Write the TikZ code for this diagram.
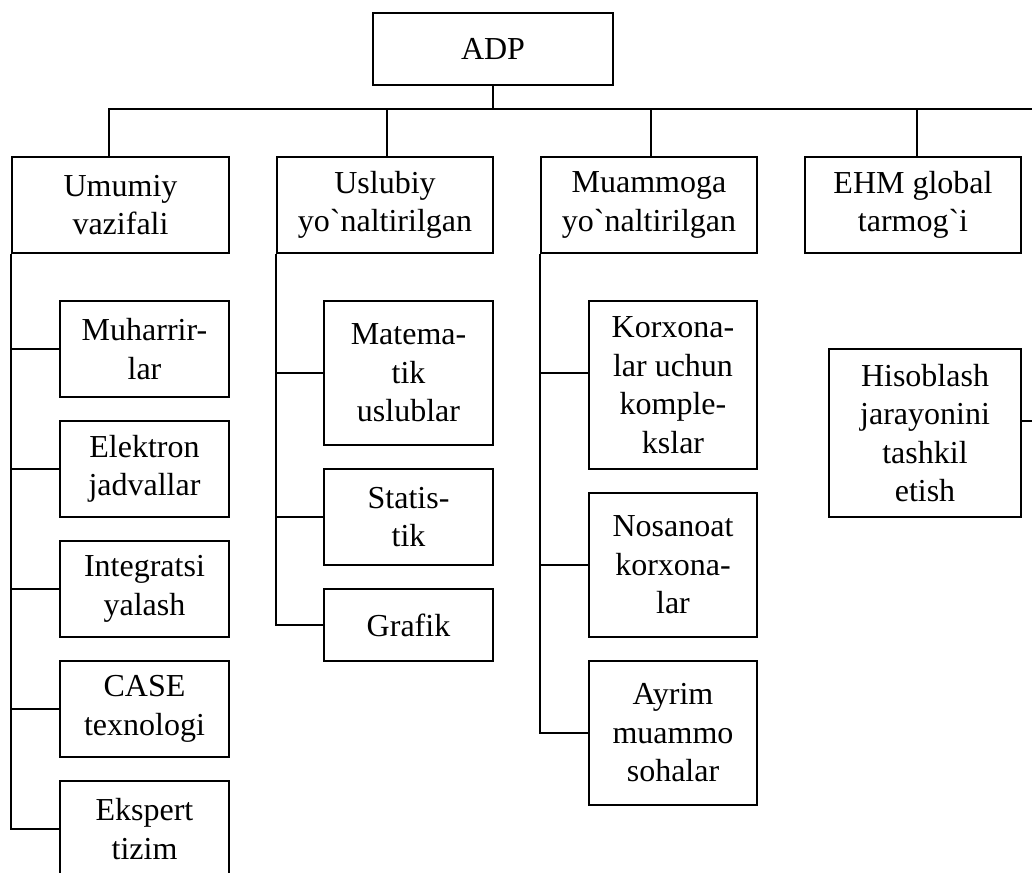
\documentclass[tikz,border=0pt]{standalone}
\usepackage{fontspec}
\setmainfont{Liberation Serif}[Ligatures=TeXOff]
\begin{document}
\begin{tikzpicture}[x=1pt,y=-1pt,
  box/.style={draw, line width=1.6pt, inner sep=0pt, align=center,
    font=\fontsize{32}{38.5}\selectfont},
  link/.style={line width=1.6pt}]
\useasboundingbox (0,0) rectangle (1032,872);
\clip (0,0) rectangle (1032,872);

% root
\node[box, minimum width=240pt, minimum height=72pt] (adp) at (493,49) {ADP};

% first level
\node[box, minimum width=217pt, minimum height=96pt] (umu) at (120.5,205) {Umumiy\\vazifali};
\node[box, minimum width=216pt, minimum height=96pt] (usl) at (385,205) {Uslubiy\\yo`naltirilgan};
\node[box, minimum width=216pt, minimum height=96pt] (mua) at (649,205) {Muammoga\\yo`naltirilgan};
\node[box, minimum width=216pt, minimum height=96pt] (ehm) at (913,205) {EHM global\\tarmog`i};

% general-purpose branch
\node[box, minimum width=169pt, minimum height=96pt] (muh) at (144.5,349) {Muharrir-\\lar};
\node[box, minimum width=169pt, minimum height=96pt] (ele) at (144.5,469) {Elektron\\jadvallar};
\node[box, minimum width=169pt, minimum height=96pt] (int) at (144.5,589) {Integratsi\\yalash};
\node[box, minimum width=169pt, minimum height=96pt] (cas) at (144.5,709) {CASE\\texnologi};
\node[box, minimum width=169pt, minimum height=96pt] (eks) at (144.5,829) {Ekspert\\tizim};

% method-oriented branch
\node[box, minimum width=169pt, minimum height=144pt] (mat) at (408.5,373) {Matema-\\tik\\uslublar};
\node[box, minimum width=169pt, minimum height=96pt] (sta) at (408.5,517) {Statis-\\tik};
\node[box, minimum width=169pt, minimum height=72pt] (gra) at (408.5,625) {Grafik};

% problem-oriented branch
\node[box, minimum width=168pt, minimum height=168pt] (kor) at (673,385) {Korxona-\\lar uchun\\komple-\\kslar};
\node[box, minimum width=168pt, minimum height=144pt] (nos) at (673,565) {Nosanoat\\korxona-\\lar};
\node[box, minimum width=168pt, minimum height=144pt] (ayr) at (673,733) {Ayrim\\muammo\\sohalar};

% network branch
\node[box, minimum width=192pt, minimum height=168pt] (his) at (925,433) {Hisoblash\\jarayonini\\tashkil\\etish};

% bus under the root
\coordinate (busR) at (1040,109);
\coordinate (hisR) at (1040,421);
\draw[link] (adp.south) -- (adp.south |- busR);
\draw[link] ([xshift=-11.5pt]umu.north) |- (busR);
\draw[link] ([xshift=2pt]usl.north) -- ([xshift=2pt]usl.north |- busR);
\draw[link] ([xshift=2pt]mua.north) -- ([xshift=2pt]mua.north |- busR);
\draw[link] ([xshift=4pt]ehm.north) -- ([xshift=4pt]ehm.north |- busR);

% spines and stubs
\draw[link] (umu.south west) |- (eks.west);
\foreach \c in {muh,ele,int,cas}
  \draw[link] (umu.south west |- \c.west) -- (\c.west);

\draw[link] (usl.south west) |- (gra.west);
\foreach \c in {mat,sta}
  \draw[link] (usl.south west |- \c.west) -- (\c.west);

\draw[link] (mua.south west) |- (ayr.west);
\draw[link] (mua.south west |- nos.west) -- (nos.west);
\draw[link] ([yshift=12pt]mua.south west |- kor.west) -- ([yshift=12pt]kor.west);

\draw[link] ([yshift=12pt]his.east) -- ([yshift=12pt]his.east -| hisR);
\end{tikzpicture}
\end{document}
